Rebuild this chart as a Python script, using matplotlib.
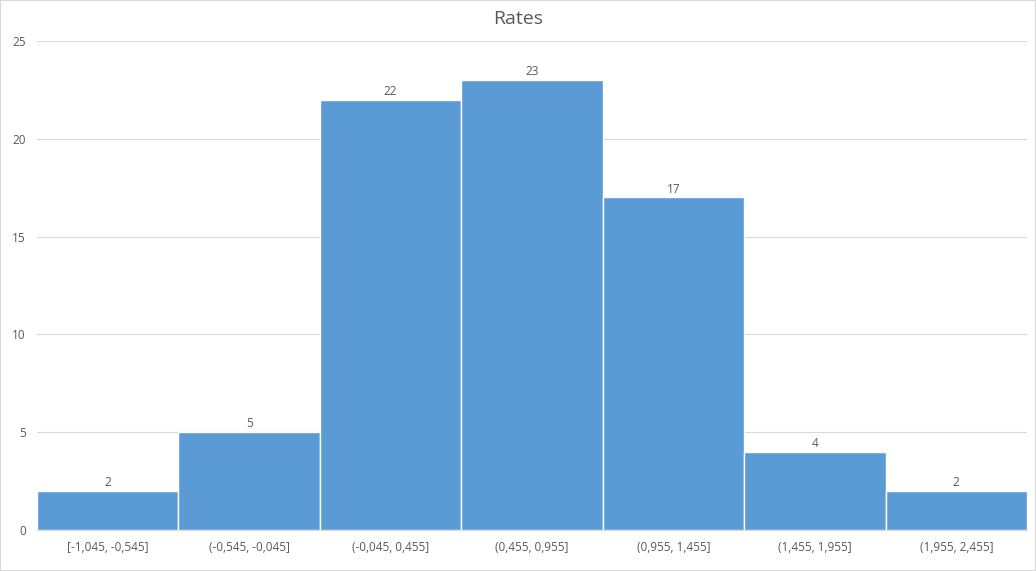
import numpy as np
import matplotlib.pyplot as plt
from matplotlib.patches import Rectangle

plt.rcParams['font.family'] = ['Open Sans', 'DejaVu Sans']

bins = ["[-1,045, -0,545]", "(-0,545, -0,045]", "(-0,045, 0,455]", "(0,455, 0,955]",
        "(0,955, 1,455]", "(1,455, 1,955]", "(1,955, 2,455]"]
counts = [2, 5, 22, 23, 17, 4, 2]
yticks = [0, 5, 10, 15, 20, 25]

text_color = '#595959'
grid_color = '#d9d9d9'

fig = plt.figure(figsize=(10.36, 5.71), dpi=100)
ax = fig.add_axes([0.0357, 0.0718, 0.9556, 0.8564])

x = np.arange(len(bins))
bars = ax.bar(x, counts, width=1.0, color='#5b9bd5', edgecolor='white', linewidth=1, zorder=3)
for xi, c in zip(x, counts):
    ax.text(xi, c + 0.1, str(c), ha='center', va='bottom', fontsize=8.5, color=text_color, zorder=4)

ax.set_xlim(-0.5, len(bins) - 0.5)
ax.set_ylim(0, 25)
ax.set_yticks(yticks)
ax.set_xticks(x)
ax.set_xticklabels(bins)
ax.tick_params(axis='both', length=0, labelsize=8.5, colors=text_color)
ax.tick_params(axis='x', pad=8)
ax.tick_params(axis='y', pad=8)
ax.grid(axis='y', color=grid_color, linewidth=0.8, zorder=0)
for s in ['top', 'right', 'left']:
    ax.spines[s].set_visible(False)
ax.spines['bottom'].set_color(grid_color)
ax.spines['bottom'].set_zorder(5)

fig.text(0.5, 0.967, 'Rates', ha='center', va='center', fontsize=14, color=text_color)
fig.patches.append(Rectangle((0, 0), 1, 1, transform=fig.transFigure, fill=False,
                             edgecolor='#d9d9d9', linewidth=1.5))

plt.savefig('out.png', dpi=100)
